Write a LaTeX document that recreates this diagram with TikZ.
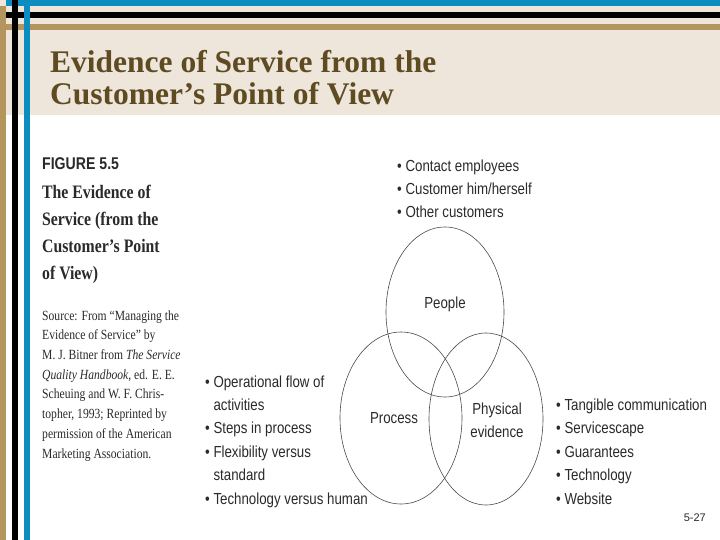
\documentclass[tikz,border=0pt]{standalone}
\usepackage{fontspec}
\setmainfont{Liberation Serif}
\setsansfont{Liberation Sans}
\newfontfamily\narrowsans[FakeStretch=0.83]{Liberation Sans}
\newfontfamily\narrowserif[FakeStretch=0.83]{Liberation Serif}
\usetikzlibrary{shapes.geometric}

\definecolor{headbeige}{HTML}{EEE6DA}
\definecolor{stripetan}{HTML}{B4955E}
\definecolor{stripeblue}{HTML}{0B8EBF}
\definecolor{titlebrown}{HTML}{5E4B22}
\definecolor{inkgray}{HTML}{2A2A2A}
\definecolor{linegray}{HTML}{4A4A4A}

\begin{document}
\begin{tikzpicture}[x=1pt,y=-1pt,
    every node/.style={inner sep=0pt},
    bullets/.style={anchor=base west,align=left,text=inkgray,
        font=\narrowsans\fontsize{16}{23.4}\selectfont},
    venn/.style={draw=linegray,line width=0.6pt,ellipse},
    vennlabel/.style={anchor=base,align=center,text=inkgray,
        font=\narrowsans\fontsize{16}{23}\selectfont}]
    \useasboundingbox (0,0) rectangle (720,540);

    % Header band and stripes
    \fill[white] (0,0) rectangle (720,540);
    \fill[headbeige] (0,0) rectangle (720,115);
    \fill[stripeblue] (6,0) rectangle (720,6);
    \fill[black] (6,12) rectangle (720,18);
    \fill[stripetan] (6,24) rectangle (720,30);
    \fill[stripetan] (0,6) rectangle (6,540);
    \fill[black] (12,0) rectangle (18,540);
    \fill[stripeblue] (24,0) rectangle (30,540);

    % Slide title (base = last line)
    \node[anchor=base west,align=left,text=titlebrown,
        font=\bfseries\fontsize{31.5}{32}\selectfont] (title) at (50,105)
        {Evidence of Service from the\\Customer’s Point of View};

    % Figure caption
    \node[anchor=base west,text=inkgray,
        font=\narrowsans\bfseries\fontsize{17}{17}\selectfont] (fignum) at (42,170) {FIGURE 5.5};
    \node[anchor=base west,align=left,text=inkgray,
        font=\narrowserif\bfseries\fontsize{19}{27}\selectfont] (figtitle) at (42,279)
        {The Evidence of\\Service (from the\\Customer’s Point\\of View)};
    \node[anchor=base west,align=left,text=inkgray,
        font=\narrowserif\fontsize{14}{19.7}\selectfont] (source) at (42,458)
        {Source: From “Managing the\\Evidence of Service” by\\M. J. Bitner from \textit{The Service}\\
         \textit{Quality Handbook}, ed. E. E.\\Scheuing and W. F. Chris-\\topher, 1993; Reprinted by\\
         permission of the American\\Marketing Association.};

    % Venn circles
    \node[venn,minimum width=118pt,minimum height=170pt] (people) at (445,312) {};
    \node[venn,minimum width=122pt,minimum height=172pt] (process) at (401,418) {};
    \node[venn,minimum width=114pt,minimum height=172pt] (physical) at (486,419) {};
    \node[vennlabel] (peoplelbl) at (445,308) {People};
    \node[vennlabel] (processlbl) at (394,423) {Process};
    \node[vennlabel] (physicallbl) at (497,437) {Physical\\evidence};

    % Bullet lists (base = last line)
    \node[bullets] (peoplelist) at (397,218)
        {\textbullet\ Contact employees\\\textbullet\ Customer him/herself\\\textbullet\ Other customers};
    \node[bullets] (processlist) at (205,504)
        {\textbullet\ Operational flow of\\\phantom{\textbullet\ }activities\\\textbullet\ Steps in process\\
         \textbullet\ Flexibility versus\\\phantom{\textbullet\ }standard\\\textbullet\ Technology versus human};
    \node[bullets] (physicallist) at (556,504)
        {\textbullet\ Tangible communication\\\textbullet\ Servicescape\\\textbullet\ Guarantees\\
         \textbullet\ Technology\\\textbullet\ Website};

    % Slide number
    \node[anchor=base east,text=inkgray,font=\sffamily\fontsize{11}{11}\selectfont] (slideno) at (706,521) {5-27};
\end{tikzpicture}
\end{document}
